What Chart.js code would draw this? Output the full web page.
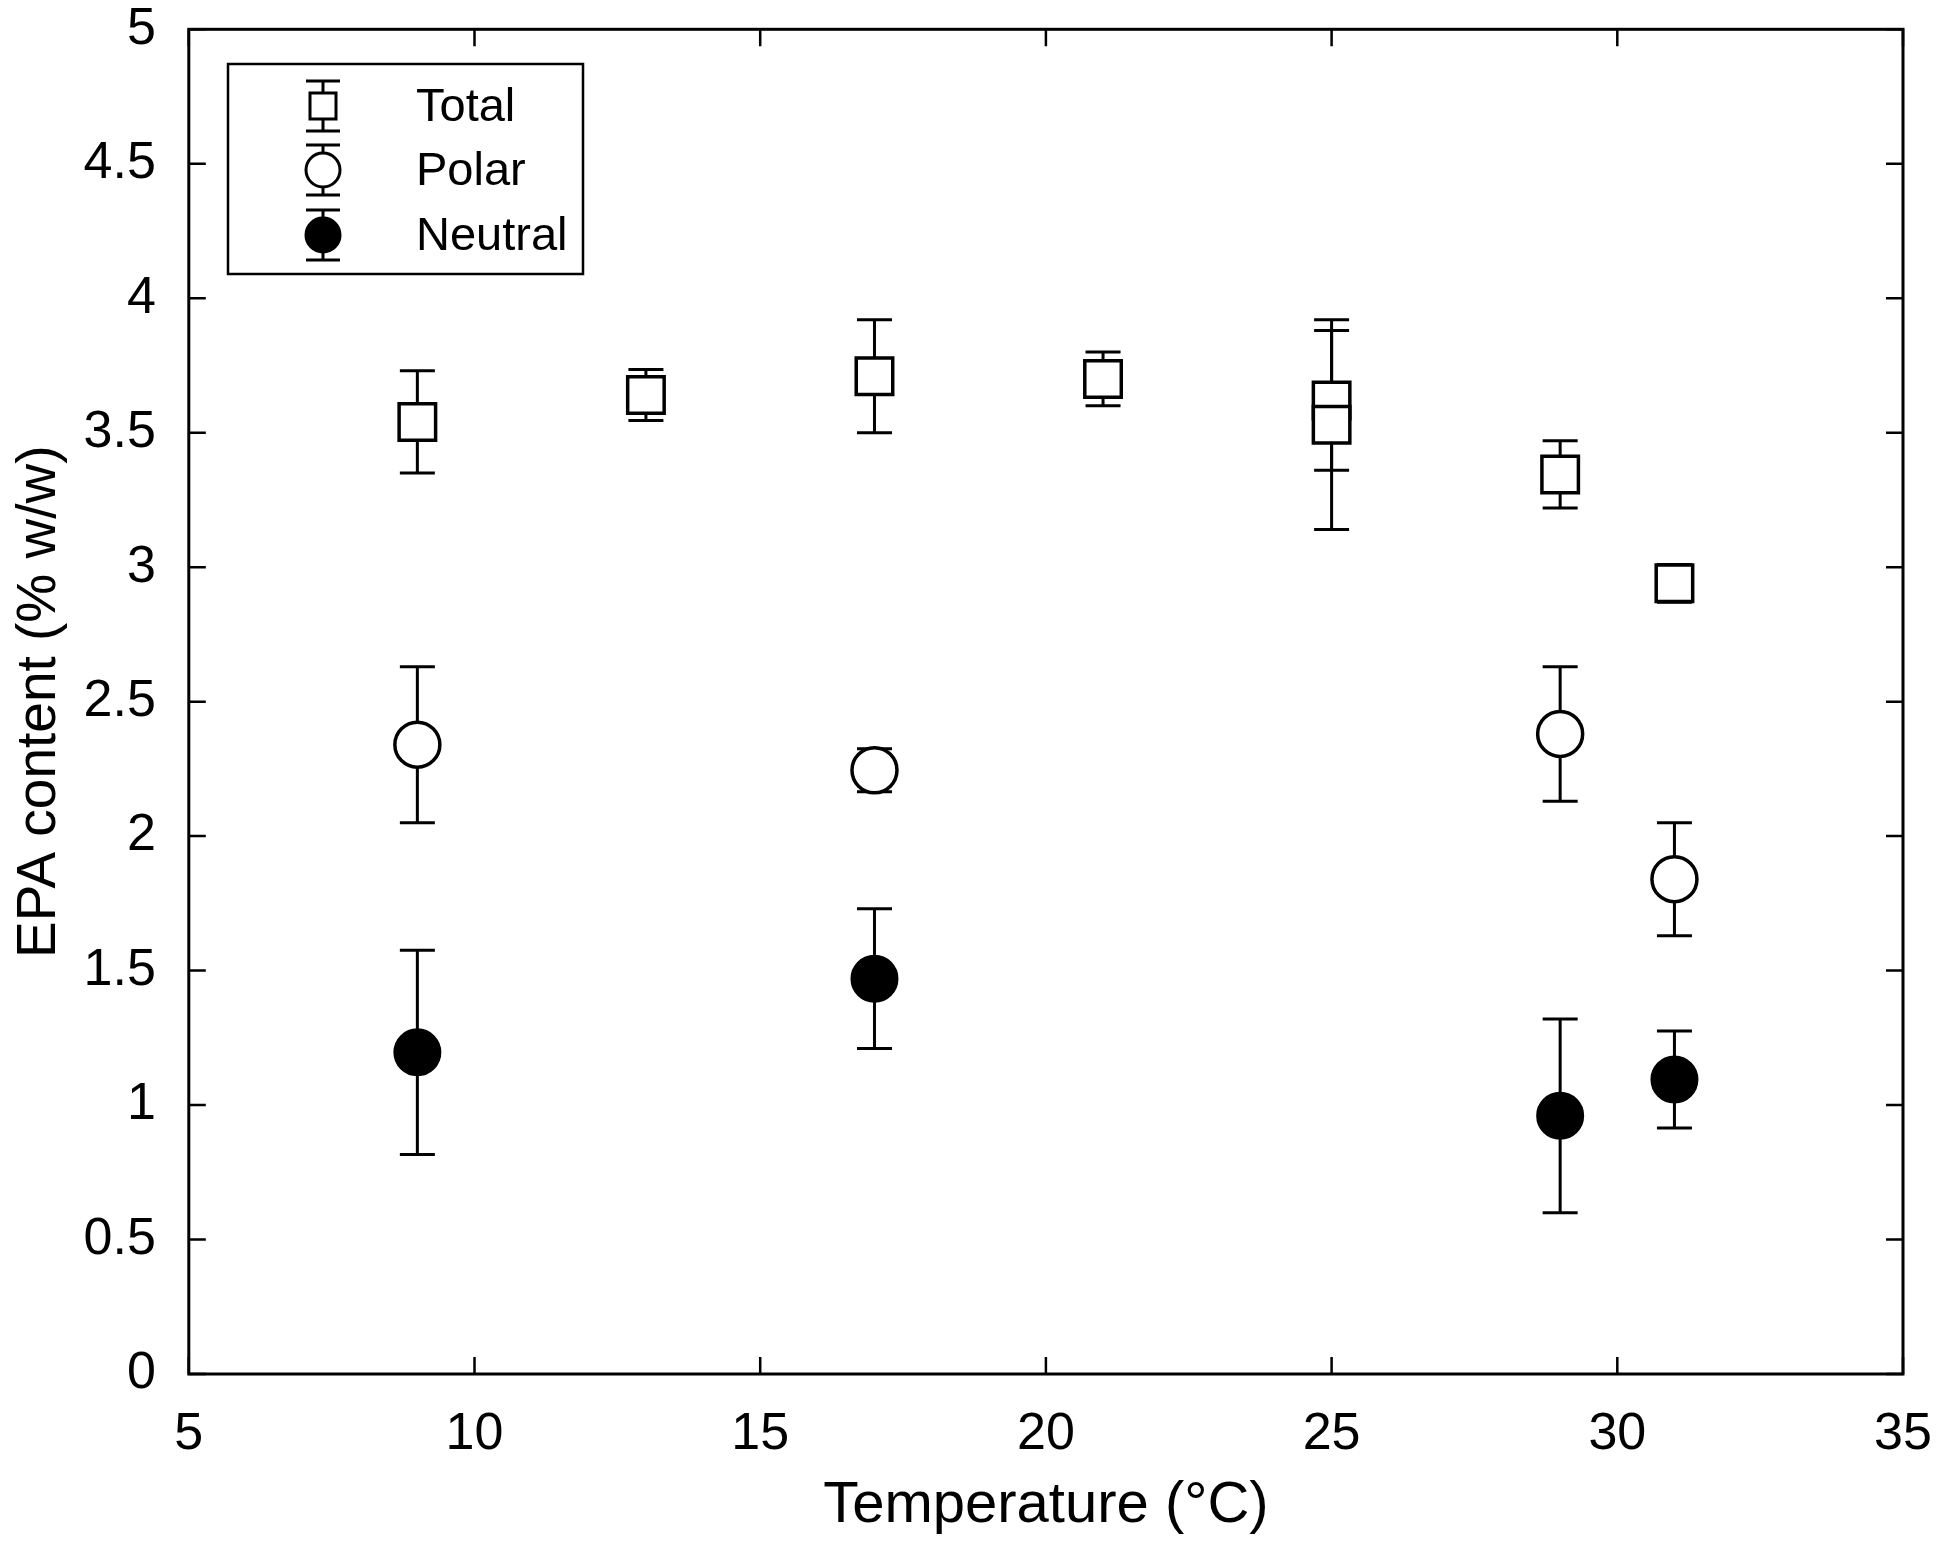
<!DOCTYPE html>
<html>
<head>
<meta charset="utf-8">
<script src="https://cdn.jsdelivr.net/npm/chart.js@4.4.0/dist/chart.umd.min.js"></script>
<style>
  html, body { margin: 0; padding: 0; background: #fff; overflow: hidden; }
  #wrap { width: 1949px; height: 1544px; }
</style>
</head>
<body>
<div id="wrap"><canvas id="grafico"></canvas></div>
<script>
// values
const totalTemps = [9, 13, 17, 21, 25, 25, 29, 31];
const totalMean = [3.54, 3.64, 3.71, 3.70, 3.62, 3.53, 3.345, 2.94];
const totalErr = [0.19, 0.095, 0.21, 0.10, 0.26, 0.39, 0.125, 0.07];

const polarTemps = [9, 17, 29, 31];
const polarMean = [2.34, 2.245, 2.38, 1.84];
const polarErr = [0.29, 0.08, 0.25, 0.21];

const neutralTemps = [9, 17, 29, 31];
const neutralMean = [1.196, 1.47, 0.96, 1.095];
const neutralErr = [0.38, 0.26, 0.36, 0.18];

const xTicks = [5, 10, 15, 20, 25, 30, 35];
const yTicks = [0, 0.5, 1, 1.5, 2, 2.5, 3, 3.5, 4, 4.5, 5];

const FONT = "'Liberation Sans', Arial, Helvetica, sans-serif";

function toPoints(xs, ys, errs) {
  return xs.map((x, i) => ({ x: x, y: ys[i], err: errs[i] }));
}

// error bars under the markers
const errorBars = {
  id: "errorBars",
  beforeDatasetsDraw(chart) {
    const ctx = chart.ctx;
    const xs = chart.scales.x, ys = chart.scales.y;
    ctx.save();
    ctx.strokeStyle = "#000";
    ctx.lineWidth = 3;
    chart.data.datasets.forEach(ds => {
      ds.data.forEach(p => {
        const px = xs.getPixelForValue(p.x);
        const top = ys.getPixelForValue(p.y + p.err);
        const bot = ys.getPixelForValue(p.y - p.err);
        const half = 17.5;
        ctx.beginPath();
        ctx.moveTo(px, top); ctx.lineTo(px, bot);
        ctx.moveTo(px - half, top); ctx.lineTo(px + half, top);
        ctx.moveTo(px - half, bot); ctx.lineTo(px + half, bot);
        ctx.stroke();
      });
    });
    ctx.restore();
  }
};

// box around the plot with inward ticks on all sides
const frame = {
  id: "frame",
  afterDraw(chart) {
    const ctx = chart.ctx;
    const a = chart.chartArea;
    const xs = chart.scales.x, ys = chart.scales.y;
    const len = 17;
    ctx.save();
    ctx.strokeStyle = "#000";
    ctx.lineWidth = 2.5;
    ctx.beginPath();
    xTicks.forEach(v => {
      const px = xs.getPixelForValue(v);
      ctx.moveTo(px, a.bottom); ctx.lineTo(px, a.bottom - len);
      ctx.moveTo(px, a.top); ctx.lineTo(px, a.top + len);
    });
    yTicks.forEach(v => {
      const py = ys.getPixelForValue(v);
      ctx.moveTo(a.left, py); ctx.lineTo(a.left + len, py);
      ctx.moveTo(a.right, py); ctx.lineTo(a.right - len, py);
    });
    ctx.stroke();
    ctx.lineWidth = 3;
    ctx.strokeRect(a.left, a.top, a.right - a.left, a.bottom - a.top);
    ctx.restore();
  }
};

// legend drawn like matlab's errorbar legend
const legendBox = {
  id: "legendBox",
  afterDraw(chart) {
    const ctx = chart.ctx;
    const bx = 228, by = 64, bw = 355, bh = 210;
    ctx.save();
    ctx.fillStyle = "#fff";
    ctx.fillRect(bx, by, bw, bh);
    ctx.strokeStyle = "#000";
    ctx.lineWidth = 2.5;
    ctx.strokeRect(bx, by, bw, bh);

    const rows = [106, 170, 235];
    const sx = 323;
    chart.data.datasets.forEach((ds, i) => {
      const cy = rows[i];
      ctx.lineWidth = 3;
      ctx.strokeStyle = "#000";
      ctx.beginPath();
      ctx.moveTo(sx, cy - 25); ctx.lineTo(sx, cy + 25);
      ctx.moveTo(sx - 17, cy - 25); ctx.lineTo(sx + 17, cy - 25);
      ctx.moveTo(sx - 17, cy + 25); ctx.lineTo(sx + 17, cy + 25);
      ctx.stroke();
      ctx.fillStyle = ds.backgroundColor;
      ctx.beginPath();
      if (ds.pointStyle === "rect") {
        ctx.rect(sx - 13, cy - 13, 26, 26);
      } else {
        ctx.arc(sx, cy, 17, 0, Math.PI * 2);
      }
      ctx.fill();
      ctx.lineWidth = 3;
      ctx.stroke();

      ctx.fillStyle = "#000";
      ctx.font = "47px " + FONT;
      ctx.textBaseline = "middle";
      ctx.textAlign = "left";
      ctx.fillText(ds.label, 416, cy + 2);
    });
    ctx.restore();
  }
};

const ctx = document.getElementById("grafico").getContext("2d");
new Chart(ctx, {
  type: "scatter",
  data: {
    datasets: [
      {
        label: "Total",
        data: toPoints(totalTemps, totalMean, totalErr),
        pointStyle: "rect",
        pointRadius: 25.8,
        borderWidth: 3.5,
        borderColor: "#000",
        backgroundColor: "#fff"
      },
      {
        label: "Polar",
        data: toPoints(polarTemps, polarMean, polarErr),
        pointStyle: "circle",
        pointRadius: 22.5,
        borderWidth: 3.5,
        borderColor: "#000",
        backgroundColor: "#fff"
      },
      {
        label: "Neutral",
        data: toPoints(neutralTemps, neutralMean, neutralErr),
        pointStyle: "circle",
        pointRadius: 23,
        borderWidth: 2,
        borderColor: "#000",
        backgroundColor: "#000"
      }
    ]
  },
  options: {
    responsive: true,
    maintainAspectRatio: false,
    devicePixelRatio: 1,
    animation: false,
    events: [],
    layout: { padding: { top: 22.7, right: 46, left: 0, bottom: 0 } },
    plugins: {
      legend: { display: false },
      tooltip: { enabled: false }
    },
    scales: {
      x: {
        type: "linear",
        min: 5,
        max: 35,
        afterBuildTicks: s => { s.ticks = xTicks.map(v => ({ value: v })); },
        afterFit: s => { s.height = 170; s.paddingLeft = 0; s.paddingRight = 0; },
        grid: { display: false },
        border: { display: false },
        ticks: {
          color: "#000",
          padding: 21,
          maxRotation: 0,
          callback: v => String(v),
          font: { family: FONT, size: 52 }
        },
        title: {
          display: true,
          text: "Temperature (°C)",
          color: "#000",
          padding: { top: 0, bottom: 3 },
          font: { family: FONT, size: 58 }
        }
      },
      y: {
        type: "linear",
        min: 0,
        max: 5,
        afterBuildTicks: s => { s.ticks = yTicks.map(v => ({ value: v })); },
        afterFit: s => { s.width = 188.8; s.paddingTop = 0; s.paddingBottom = 0; },
        grid: { display: false },
        border: { display: false },
        ticks: {
          color: "#000",
          padding: 25,
          callback: v => String(v),
          font: { family: FONT, size: 52 }
        },
        title: {
          display: true,
          text: "EPA content (% w/w)",
          color: "#000",
          padding: { top: 7, bottom: 0 },
          font: { family: FONT, size: 55 }
        }
      }
    }
  },
  plugins: [errorBars, frame, legendBox]
});
</script>
</body>
</html>
